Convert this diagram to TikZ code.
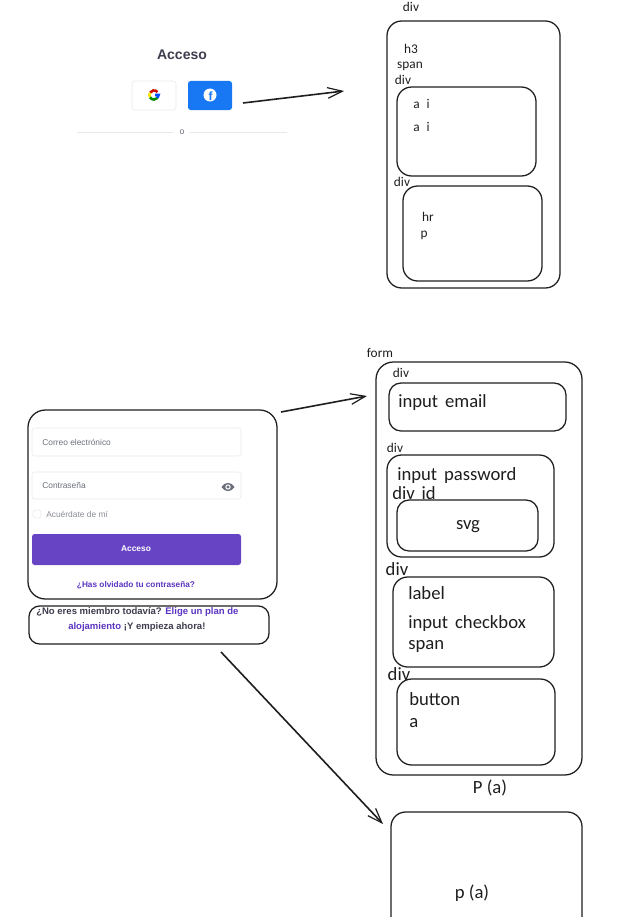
\documentclass[tikz,border=0pt]{standalone}
\usepackage{fontspec}
\setmainfont{Liberation Sans}
\newfontfamily\handfont{Carlito}
\usetikzlibrary{arrows.meta, fit}
\definecolor{ink}{HTML}{1E1E1E}
\definecolor{fieldline}{HTML}{E6E8EC}
\definecolor{greytext}{HTML}{6B6F7B}
\definecolor{headtext}{HTML}{3D3D4E}
\definecolor{purplebtn}{HTML}{6744C4}
\definecolor{purplelink}{HTML}{5A35C0}
\definecolor{fbblue}{HTML}{1877F2}
\tikzset{
    skbox/.style={draw=ink, line width=0.95pt, inner sep=0pt, outer sep=0pt},
    skarrow/.style={draw=ink, line width=1.2pt, -{Straight Barb[length=11pt, width=8pt, line width=0.9pt]}},
    uibox/.style={inner sep=0pt, outer sep=0pt, rounded corners=2pt},
    hand/.style={font=\handfont\fontsize{10}{12}\selectfont, text=ink, inner sep=0pt},
    handbig/.style={font=\handfont\fontsize{14}{16}\selectfont, text=ink, inner sep=0pt, anchor=west},
    uitext/.style={font=\fontsize{6.3}{8}\selectfont, text=greytext, inner sep=0pt}
}
\begin{document}
\begin{tikzpicture}[x=0.75pt, y=-0.75pt]
    \useasboundingbox (0,0) rectangle (629,917);

    % login header
    \node[font=\bfseries\fontsize{10.5}{12}\selectfont, text=headtext, inner sep=0pt] (title) at (182,55) {Acceso};
    \node[uibox, draw=fieldline, fit={(132,81) (176,110)}] (googlebtn) {};
    \node[uibox, fill=fbblue, fit={(188,81) (232,110)}] (fbbtn) {};
    \begin{scope}[line width=1.9pt]
        \draw[red!80!black!90!orange] (154,95) ++(-40:4.6) arc (-40:-150:4.6);
        \draw[yellow!85!orange] (154,95) ++(-150:4.6) arc (-150:-210:4.6);
        \draw[green!55!black] (154,95) ++(-210:4.6) arc (-210:-320:4.6);
        \draw[blue!70!cyan] (154,95) ++(-320:4.6) arc (-320:-360:4.6) -- (155,95);
    \end{scope}
    \fill[white] (210,95) circle (6.5);
    \node[font=\bfseries\fontsize{9}{9}\selectfont, text=fbblue, inner sep=0pt] (fbicon) at (210.5,96) {f};
    \node[uitext, font=\fontsize{6.5}{7}\selectfont] (ortext) at (182,132) {o};
    \coordinate (ruleA) at (77,132);
    \coordinate (ruleB) at (173,132);
    \coordinate (ruleC) at (190,132);
    \coordinate (ruleD) at (287,132);
    \draw[fieldline, line width=0.7pt] (ruleA) -- (ruleB);
    \draw[fieldline, line width=0.7pt] (ruleC) -- (ruleD);

    % boxes of the header
    \node[skbox, rounded corners=11pt, fit={(387,21) (560,288)}] (topdiv) {};
    \node[skbox, rounded corners=11pt, fit={(397,87) (536,176)}] (linksdiv) {};
    \node[skbox, rounded corners=11pt, fit={(403,186) (542,281)}] (ordiv) {};
    \node[hand] (toplabel) at (411,7) {div};
    \node[hand] (hthree) at (411,49) {h3};
    \node[hand] (spanlabel) at (410,66) {span};
    \node[hand] (linkslabel) at (403,80) {div};
    \node[hand] (linka) at (421.5,104) {a\hspace{5pt}i};
    \node[hand] (linkb) at (421.5,127) {a\hspace{5pt}i};
    \node[hand] (orlabel) at (402,182) {div};
    \node[hand] (hrlabel) at (428,217) {hr};
    \node[hand] (plabel) at (424,235) {p};

    % login form
    \node[skbox, rounded corners=13pt, fit={(28,410) (277,599)}] (card) {};
    \node[uibox, draw=fieldline, fit={(32,428) (241,456)}] (emailfield) {};
    \node[uibox, draw=fieldline, fit={(32,472) (241,499)}] (passfield) {};
    \node[uitext, anchor=west] (emailtext) at (42,442) {Correo electrónico};
    \node[uitext, anchor=west] (passtext) at (42,486) {Contraseña};
    \fill[greytext] (221.5,487) .. controls (225,481.5) and (231,481.5) .. (234.5,487) .. controls (231,492.5) and (225,492.5) .. (221.5,487) -- cycle;
    \fill[white] (228,487) circle (2.7);
    \fill[greytext] (228,487) circle (1.6);
    \node[uibox, draw=fieldline, fit={(33,510) (41,518)}] (checkmark) {};
    \node[uitext, text=greytext!80, anchor=west] (remember) at (46,514) {Acuérdate de mí};
    \node[uibox, fill=purplebtn, fit={(32,534) (241,565)}] (submitbtn) {};
    \node[uitext, font=\bfseries\fontsize{6.3}{8}\selectfont, text=white] (submittext) at (136,548.5) {Acceso};
    \node[uitext, font=\bfseries\fontsize{6.2}{8}\selectfont, text=purplelink] (forgot) at (136,585) {¿Has olvidado tu contraseña?};
    \node[skbox, rounded corners=8pt, fit={(29,606) (269,644)}] (signup) {};
    \node[uitext, font=\bfseries\fontsize{7.15}{8}\selectfont, text=headtext, anchor=west] (signupa) at (36,612) {¿No eres miembro todavía? \textcolor{purplelink}{Elige un plan de}};
    \node[uitext, font=\bfseries\fontsize{7.15}{8}\selectfont, text=headtext, anchor=west] (signupb) at (68,627) {\textcolor{purplelink}{alojamiento} ¡Y empieza ahora!};

    % boxes of the form
    \node[skbox, rounded corners=13pt, fit={(376,362) (582,775)}] (formbox) {};
    \node[skbox, rounded corners=9pt, fit={(389,383) (566,431)}] (emaildiv) {};
    \node[skbox, rounded corners=11pt, fit={(387,455) (554,557)}] (passdiv) {};
    \node[skbox, rounded corners=9pt, fit={(397,500) (538,551)}] (svgdiv) {};
    \node[skbox, rounded corners=11pt, fit={(393,577) (554,667)}] (checkdiv) {};
    \node[skbox, rounded corners=11pt, fit={(397,679) (555,765)}] (buttondiv) {};
    \node[hand] (formlabel) at (380,353) {form};
    \foreach \x/\y/\nm in {401/373/emaillabel, 395/448/passlabel}
        {
          \node[hand] (\nm) at (\x,\y) {div};
        };
    \node[handbig] (emailtag) at (398,403) {input\hspace{2pt} email};
    \node[handbig] (passtag) at (397,476) {input\hspace{2pt} password};
    \node[handbig] (idtag) at (392,493) {div\hspace{2pt} id};
    \node[handbig, anchor=center] (svgtag) at (468,527) {svg};
    \node[handbig, anchor=center] (checklabel) at (397,569) {div};
    \node[handbig] (labeltag) at (408,593) {label};
    \node[handbig] (checktag) at (408,624) {input\hspace{2pt} checkbox};
    \node[handbig] (spantag) at (408,646) {span};
    \node[handbig, anchor=center] (buttonlabel) at (399,674) {div};
    \node[handbig] (buttontag) at (409,699) {button};
    \node[handbig] (atag) at (409,723) {a};
    \node[handbig, anchor=center] (formp) at (490,788) {P (a)};

    % box under the form, cut by the page
    \coordinate (lowA) at (391,917);
    \coordinate (lowB) at (391,812);
    \coordinate (lowC) at (582,812);
    \coordinate (lowD) at (582,917);
    \draw[ink, line width=0.95pt, rounded corners=11pt] (lowA) -- (lowB) -- (lowC) -- (lowD);
    \node[handbig, anchor=center] (lowp) at (472,893) {p (a)};

    \coordinate (arrowAs) at (243,103);
    \coordinate (arrowAe) at (344,91);
    \coordinate (arrowBs) at (281,412);
    \coordinate (arrowBe) at (367,396);
    \coordinate (arrowCs) at (221,652);
    \coordinate (arrowCe) at (383,824);
    \draw[skarrow] (arrowAs) -- (arrowAe);
    \draw[skarrow] (arrowBs) -- (arrowBe);
    \draw[skarrow] (arrowCs) -- (arrowCe);
\end{tikzpicture}
\end{document}
